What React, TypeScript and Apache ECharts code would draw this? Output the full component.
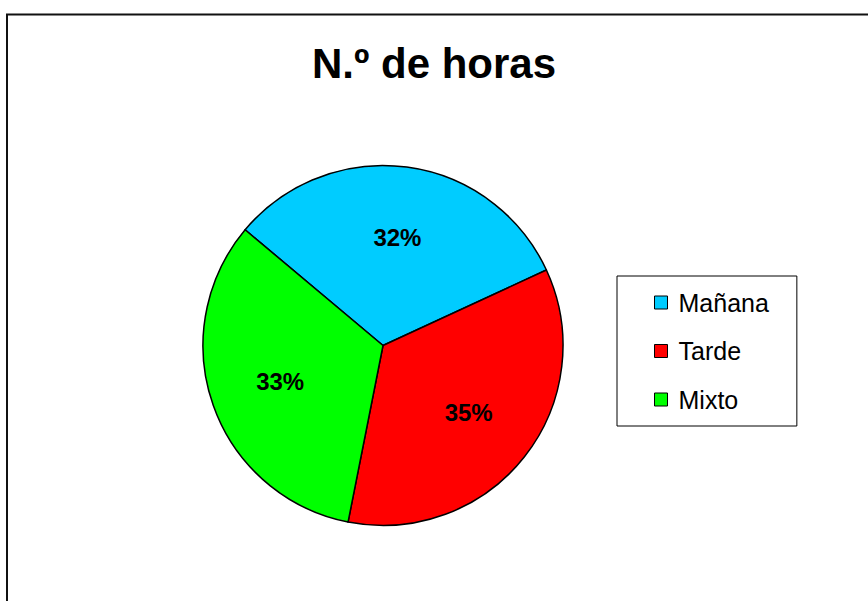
import React, { useEffect, useRef } from "react";
import * as echarts from "echarts";

const categories = ["Mañana", "Tarde", "Mixto"];
const values = [32, 35, 33];
const colors = ["#00CCFF", "#FF0000", "#00FF00"];
const titleText = "N.º de horas";

const FONT = "'Liberation Sans', Arial, Helvetica, sans-serif";

export default function App() {
  const ref = useRef<HTMLDivElement>(null);
  useEffect(() => {
    if (!ref.current) return;
    const chart = echarts.init(ref.current, undefined, { renderer: "svg" });
    const data = categories.map((name, i) => ({
      name,
      value: values[i],
      itemStyle: { color: colors[i] },
    }));
    chart.setOption({
      animation: false,
      backgroundColor: "#ffffff",
      title: {
        text: titleText,
        left: "center",
        top: 42,
        padding: 0,
        textStyle: {
          fontFamily: FONT,
          fontSize: 42,
          fontWeight: "bold",
          color: "#000",
          lineHeight: 42,
        },
      },
      legend: {
        orient: "vertical",
        left: 617,
        top: 276,
        padding: [14, 28, 14, 37],
        borderColor: "#000",
        borderWidth: 1,
        itemWidth: 13,
        itemHeight: 13,
        itemGap: 23.5,
        icon: "rect",
        selectedMode: false,
        data: categories,
        itemStyle: { borderColor: "#000", borderWidth: 1 },
        textStyle: {
          fontFamily: FONT,
          fontSize: 25,
          color: "#000",
          lineHeight: 24,
          padding: [0, 0, 0, 6],
        },
      },
      graphic: [
        {
          type: "rect",
          shape: { x: 7, y: 14.5, width: 900, height: 700 },
          style: { fill: "none", stroke: "#111", lineWidth: 2 },
          silent: true,
          z: 100,
        },
      ],
      series: [
        {
          type: "pie",
          center: [383, 345.5],
          radius: [0, 180],
          startAngle: 140,
          clockwise: true,
          silent: true,
          label: { show: false },
          labelLine: { show: false },
          itemStyle: { borderColor: "#000", borderWidth: 1.5 },
          emphasis: { disabled: true },
          data,
        },
        {
          type: "pie",
          center: [383, 345.5],
          radius: [0, 212],
          startAngle: 140,
          clockwise: true,
          silent: true,
          z: 3,
          itemStyle: { color: "transparent", borderWidth: 0 },
          label: {
            show: true,
            position: "inside",
            formatter: "{d}%",
            fontFamily: FONT,
            fontSize: 24,
            fontWeight: "bold",
            color: "#000",
          },
          labelLine: { show: false },
          emphasis: { disabled: true },
          data: categories.map((name, i) => ({ name, value: values[i] })),
        },
      ],
    });
    return () => chart.dispose();
  }, []);
  return (
    <div
      ref={ref}
      style={{ position: "fixed", left: 0, top: 0, width: 868, height: 601 }}
    />
  );
}
